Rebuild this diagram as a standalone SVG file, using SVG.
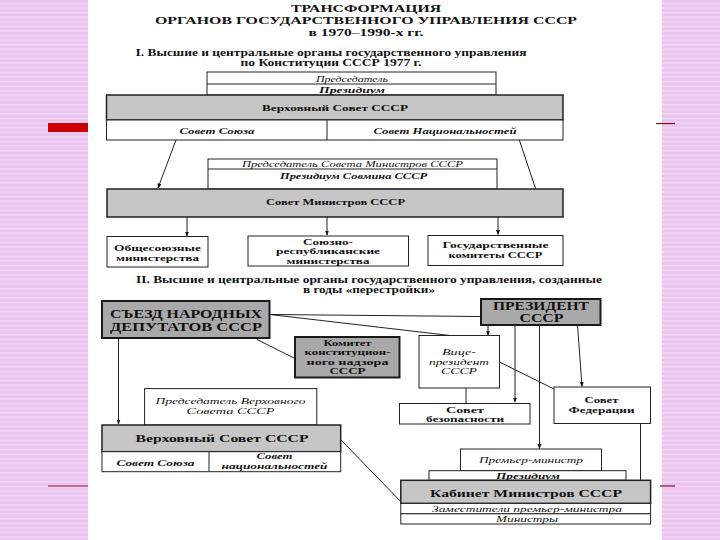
<svg xmlns="http://www.w3.org/2000/svg" width="720" height="540" viewBox="0 0 720 540">
<defs>
<pattern id="stripes" width="10" height="4.6" patternUnits="userSpaceOnUse"><rect width="10" height="4.6" fill="#EAC3EF"/><rect y="2.6" width="10" height="1.6" fill="#F2D7F5"/></pattern>
<marker id="arr" viewBox="0 0 10 10" refX="9" refY="5" markerWidth="5" markerHeight="5" orient="auto"><path d="M0,1 L10,5 L0,9 z" fill="#111"/></marker>
<style>
text{font-family:"Liberation Serif","Times New Roman",serif;fill:#111;text-anchor:middle}
.b{font-weight:bold}
.i{font-style:italic}
.bi{font-weight:bold;font-style:italic}
.w{fill:#fff;stroke:#222;stroke-width:1}
.g{fill:#C6C6C6;stroke:#222;stroke-width:1.5}
.gd{fill:#A9A9A9;stroke:#1a1a1a;stroke-width:2}
.ln{fill:none;stroke:#222;stroke-width:1}
.ar{fill:none;stroke:#222;stroke-width:1;marker-end:url(#arr)}
</style>
</defs>
<rect width="720" height="540" fill="url(#stripes)"/>
<rect x="88" y="0" width="574" height="540" fill="#fff"/>
<rect x="48" y="123" width="40" height="9" fill="#CC0000"/>
<line x1="656" y1="123.5" x2="675" y2="123.5" stroke="#7a1020" stroke-width="1.2"/>
<line x1="48" y1="486" x2="88" y2="486" stroke="#8a1030" stroke-width="1.2"/>
<line x1="660" y1="486" x2="675" y2="486" stroke="#7a1020" stroke-width="1.2"/>

<g id="title">
<text x="366" y="12" class="b" font-size="11" textLength="150" lengthAdjust="spacingAndGlyphs">ТРАНСФОРМАЦИЯ</text>
<text x="366" y="24" class="b" font-size="11" textLength="422" lengthAdjust="spacingAndGlyphs">ОРГАНОВ ГОСУДАРСТВЕННОГО УПРАВЛЕНИЯ СССР</text>
<text x="366" y="35.5" class="b" font-size="11" textLength="115" lengthAdjust="spacingAndGlyphs">в 1970–1990-х гг.</text>
<text x="331" y="56" class="b" font-size="9.5" textLength="391" lengthAdjust="spacingAndGlyphs">I. Высшие и центральные органы государственного управления</text>
<text x="331" y="65.5" class="b" font-size="9.5" textLength="181" lengthAdjust="spacingAndGlyphs">по Конституции СССР 1977 г.</text>
<text x="369" y="283" class="b" font-size="9.5" textLength="466" lengthAdjust="spacingAndGlyphs">II. Высшие и центральные органы государственного управления, созданные</text>
<text x="369" y="292.5" class="b" font-size="9.5" textLength="132" lengthAdjust="spacingAndGlyphs">в годы «перестройки»</text>
</g>

<g id="connectors">
<line class="ar" x1="176" y1="140" x2="158" y2="188"/>
<line class="ar" x1="519" y1="139" x2="538" y2="196"/>
<line class="ar" x1="187" y1="217" x2="187" y2="236"/>
<line class="ar" x1="327" y1="217" x2="327" y2="235"/>
<line class="ar" x1="498" y1="217" x2="498" y2="234.5"/>
<line class="ln" x1="270" y1="314.5" x2="481" y2="316.5"/>
<line class="ln" x1="270" y1="314.5" x2="450" y2="335.5"/>
<line class="ar" x1="488" y1="326" x2="488" y2="335"/>
<line class="ln" x1="257" y1="339.5" x2="295" y2="358.5"/>
<line class="ar" x1="515" y1="325" x2="515" y2="402"/>
<line class="ar" x1="539.5" y1="325" x2="539.5" y2="448.5"/>
<line class="ar" x1="577.5" y1="325" x2="582" y2="386.5"/>
<line class="ln" x1="499.5" y1="362" x2="554" y2="389"/>
<line class="ln" x1="466" y1="388" x2="466" y2="403.5"/>
<line class="ln" x1="640.5" y1="423.5" x2="640.5" y2="480"/>
<line class="ar" x1="118.5" y1="338.5" x2="118.5" y2="424"/>
<line class="ln" x1="340.7" y1="439.6" x2="400.8" y2="501.7"/>
</g>

<g id="vs1977">
<rect class="w" x="207" y="72" width="289" height="23"/>
<line class="ln" x1="207" y1="84" x2="496" y2="84"/>
<text x="352" y="81.5" class="i" font-size="8.5" textLength="72" lengthAdjust="spacingAndGlyphs">Председатель</text>
<text x="352" y="92.5" class="bi" font-size="8.5" textLength="66" lengthAdjust="spacingAndGlyphs">Президиум</text>
<rect class="g" x="106.5" y="95" width="456.5" height="25"/>
<text x="335" y="111" class="b" font-size="9" textLength="146" lengthAdjust="spacingAndGlyphs">Верховный Совет СССР</text>
<rect class="w" x="106.5" y="120" width="456.5" height="20" stroke-width="1.5"/>
<line class="ln" x1="327" y1="120" x2="327" y2="140" stroke-width="1.5"/>
<text x="217" y="133.5" class="bi" font-size="8.5" textLength="75" lengthAdjust="spacingAndGlyphs">Совет Союза</text>
<text x="445" y="133.5" class="bi" font-size="8.5" textLength="143" lengthAdjust="spacingAndGlyphs">Совет Национальностей</text>
</g>

<g id="sovmin">
<rect class="w" x="208" y="159" width="289" height="30"/>
<line class="ln" x1="208" y1="169" x2="497" y2="169"/>
<text x="352.5" y="167" class="i" font-size="8.5" textLength="221" lengthAdjust="spacingAndGlyphs">Председатель Совета Министров СССР</text>
<text x="353.5" y="178.5" class="bi" font-size="8.5" textLength="147" lengthAdjust="spacingAndGlyphs">Президиум Совмина СССР</text>
<rect class="g" x="107" y="189" width="456" height="28"/>
<text x="335.5" y="205" class="b" font-size="9" textLength="139" lengthAdjust="spacingAndGlyphs">Совет Министров СССР</text>
</g>

<g id="obshchesoyuznye">
<rect class="w" x="107" y="236.5" width="101" height="30.5" stroke-width="1.3"/>
<text x="157.5" y="250.5" class="b" font-size="8.5" textLength="87" lengthAdjust="spacingAndGlyphs">Общесоюзные</text>
<text x="157.5" y="260.5" class="b" font-size="8.5" textLength="83" lengthAdjust="spacingAndGlyphs">министерства</text>
</g>
<g id="soyuzno">
<rect class="w" x="248" y="236" width="160.5" height="30" stroke-width="1.3"/>
<text x="328" y="244.5" class="b" font-size="8.5" textLength="50" lengthAdjust="spacingAndGlyphs">Союзно-</text>
<text x="328" y="254" class="b" font-size="8.5" textLength="104" lengthAdjust="spacingAndGlyphs">республиканские</text>
<text x="328" y="263.5" class="b" font-size="8.5" textLength="83" lengthAdjust="spacingAndGlyphs">министерства</text>
</g>
<g id="goskomitety">
<rect class="w" x="428" y="235.5" width="135" height="30" stroke-width="1.3"/>
<text x="495.5" y="248" class="b" font-size="8.5" textLength="106" lengthAdjust="spacingAndGlyphs">Государственные</text>
<text x="495.5" y="258" class="b" font-size="8.5" textLength="94" lengthAdjust="spacingAndGlyphs">комитеты СССР</text>
</g>

<g id="syezd">
<rect class="gd" x="102" y="301" width="167.5" height="37"/>
<text x="186" y="318" class="b" font-size="12.5" textLength="152" lengthAdjust="spacingAndGlyphs">СЪЕЗД НАРОДНЫХ</text>
<text x="186" y="330.5" class="b" font-size="12.5" textLength="152" lengthAdjust="spacingAndGlyphs">ДЕПУТАТОВ СССР</text>
</g>
<g id="prezident">
<rect class="gd" x="481" y="299" width="119.5" height="26"/>
<text x="541" y="310" class="b" font-size="11.5" textLength="96" lengthAdjust="spacingAndGlyphs">ПРЕЗИДЕНТ</text>
<text x="541.5" y="321.5" class="b" font-size="11.5" textLength="44" lengthAdjust="spacingAndGlyphs">СССР</text>
</g>
<g id="komitet">
<rect class="gd" x="295" y="337" width="104.5" height="40.5"/>
<text x="347.5" y="345.5" class="b" font-size="8.5" textLength="48" lengthAdjust="spacingAndGlyphs">Комитет</text>
<text x="347.5" y="355" class="b" font-size="8.5" textLength="86" lengthAdjust="spacingAndGlyphs">конституцион-</text>
<text x="347.5" y="364.5" class="b" font-size="8.5" textLength="82" lengthAdjust="spacingAndGlyphs">ного надзора</text>
<text x="347.5" y="374" class="b" font-size="8.5" textLength="36" lengthAdjust="spacingAndGlyphs">СССР</text>
</g>
<g id="vitse">
<rect class="w" x="419" y="335.5" width="80.5" height="52.5"/>
<text x="459" y="355" class="i" font-size="8.5" textLength="34" lengthAdjust="spacingAndGlyphs">Вице-</text>
<text x="459" y="364.5" class="i" font-size="8.5" textLength="60" lengthAdjust="spacingAndGlyphs">президент</text>
<text x="459" y="374" class="i" font-size="8.5" textLength="36" lengthAdjust="spacingAndGlyphs">СССР</text>
</g>
<g id="sovbez">
<rect class="w" x="399.5" y="403.5" width="130.5" height="20.5" stroke-width="1.3"/>
<text x="465" y="412.5" class="b" font-size="8.5" textLength="38" lengthAdjust="spacingAndGlyphs">Совет</text>
<text x="465" y="421.5" class="b" font-size="8.5" textLength="78" lengthAdjust="spacingAndGlyphs">безопасности</text>
</g>
<g id="sovfed">
<rect class="w" x="554" y="387" width="96.5" height="36.5" stroke-width="1.3"/>
<text x="601.5" y="403" class="b" font-size="8.5" textLength="34" lengthAdjust="spacingAndGlyphs">Совет</text>
<text x="601.5" y="412.5" class="b" font-size="8.5" textLength="66" lengthAdjust="spacingAndGlyphs">Федерации</text>
</g>
<g id="vs-perestroika">
<rect class="w" x="144.6" y="388.6" width="172.2" height="36.4" stroke-width="0.8"/>
<text x="230.5" y="404" class="i" font-size="8.5" textLength="150" lengthAdjust="spacingAndGlyphs">Председатель Верховного</text>
<text x="230.5" y="414" class="i" font-size="8.5" textLength="88" lengthAdjust="spacingAndGlyphs">Совета СССР</text>
<rect class="g" x="102" y="425" width="238.7" height="26.7"/>
<text x="222" y="442" class="b" font-size="11" textLength="173" lengthAdjust="spacingAndGlyphs">Верховный Совет СССР</text>
<rect class="w" x="102" y="451.7" width="238.7" height="20"/>
<line class="ln" x1="209" y1="451.7" x2="209" y2="471.7"/>
<text x="155.5" y="465.5" class="bi" font-size="8.5" textLength="78" lengthAdjust="spacingAndGlyphs">Совет Союза</text>
<text x="274.5" y="459" class="bi" font-size="8.5" textLength="36" lengthAdjust="spacingAndGlyphs">Совет</text>
<text x="274.5" y="469" class="bi" font-size="8.5" textLength="106" lengthAdjust="spacingAndGlyphs">национальностей</text>
</g>
<g id="kabinet">
<rect class="w" x="460.5" y="449" width="141" height="21.7" stroke-width="0.8"/>
<text x="531" y="463" class="i" font-size="8.5" textLength="104" lengthAdjust="spacingAndGlyphs">Премьер-министр</text>
<rect class="w" x="429" y="470.7" width="197" height="9.6" stroke-width="0.8"/>
<text x="528" y="478.5" class="bi" font-size="8.5" textLength="64" lengthAdjust="spacingAndGlyphs">Президиум</text>
<rect class="g" x="400.8" y="480.3" width="249.8" height="23.1"/>
<text x="526" y="496.5" class="b" font-size="11" textLength="192" lengthAdjust="spacingAndGlyphs">Кабинет Министров СССР</text>
<rect class="w" x="400.8" y="503.4" width="249.8" height="10.4" stroke-width="0.8"/>
<text x="527" y="512" class="i" font-size="8.5" textLength="190" lengthAdjust="spacingAndGlyphs">Заместители премьер-министра</text>
<rect class="w" x="400.8" y="513.8" width="249.8" height="10.2" stroke-width="0.8"/>
<text x="527" y="522" class="i" font-size="8.5" textLength="62" lengthAdjust="spacingAndGlyphs">Министры</text>
</g>
</svg>
